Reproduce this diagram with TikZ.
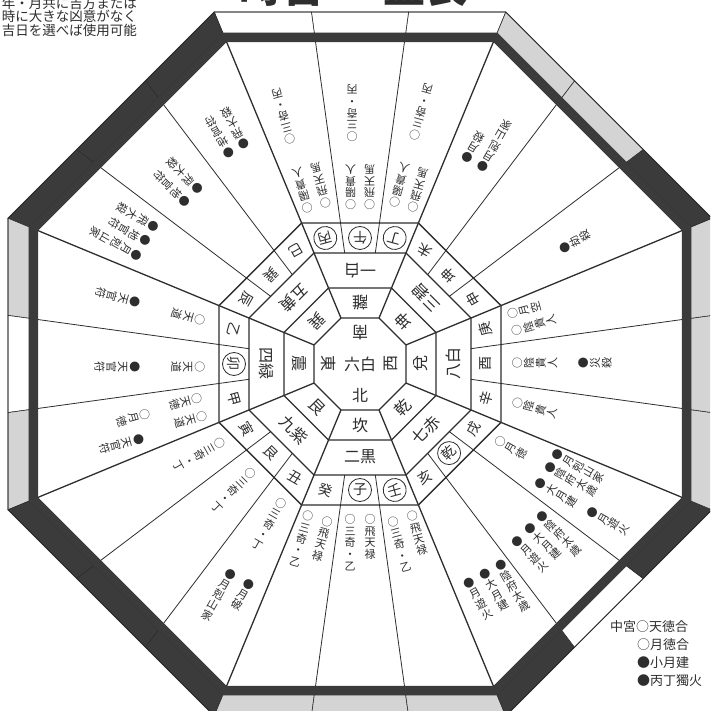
\documentclass[tikz,border=0pt]{standalone}
\usepackage{fontspec}
\setmainfont{Noto Sans CJK JP}
\usetikzlibrary{calc}
\definecolor{ink}{gray}{0.18}
\definecolor{darkband}{gray}{0.23}
\definecolor{greyband}{gray}{0.83}
\newcommand{\octp}[1]{(22.5:{#1*1.08239}) -- (67.5:{#1*1.08239}) -- (112.5:{#1*1.08239}) -- (157.5:{#1*1.08239}) -- (202.5:{#1*1.08239}) -- (247.5:{#1*1.08239}) -- (292.5:{#1*1.08239}) -- (337.5:{#1*1.08239}) -- cycle}
% vertical annotation column: name, sector angle, sub-sector (-1,0,1), start apothem, lateral offset, text
\newcommand{\vt}[6]{%
  \pgfmathsetmacro\bb{#2+#3*15.4}%
  \pgfmathsetmacro\rr{#4/cos(#3*15.4)}%
  \node[ann, rotate=\bb+90, anchor=north] (#1) at ($(\bb:\rr)+({\bb+90}:#5)$) {#6};}
% 24-mountain label: name, sector angle, sub-sector, style, text
\newcommand{\mt}[5]{%
  \pgfmathsetmacro\bb{#2+#3*15.4}%
  \pgfmathsetmacro\rr{126/cos(#3*15.4)}%
  \node[#4, rotate=\bb+90] (#1) at (\bb:\rr) {#5};}
\tikzset{
  ann/.style={text=ink, font=\fontsize{11}{11.8}\selectfont, align=center, inner sep=0pt},
  mtn/.style={text=ink, font=\fontsize{14}{14}\selectfont, inner sep=0pt},
  mtnc/.style={mtn, draw=ink, circle, line width=0.8pt, minimum size=23pt},
  big/.style={text=ink, font=\fontsize{16}{16}\selectfont, inner sep=0pt},
  leg/.style={text=ink, font=\fontsize{13}{13}\selectfont, inner sep=0pt, anchor=west},
  note/.style={text=ink, font=\fontsize{13.5}{13.5}\selectfont, inner sep=0pt, anchor=east},
  titletext/.style={text=ink, font=\fontsize{42}{42}\selectfont\bfseries, inner sep=0pt, anchor=south},
  mainline/.style={draw=ink, line width=1.3pt},
  subline/.style={draw=ink, line width=0.8pt}
}
\begin{document}
\begin{tikzpicture}[x=1pt,y=1pt]
\useasboundingbox (-360,-347) rectangle (350,364);
\clip (-360,-347) rectangle (350,364);
\fill[white] (-360,-347) rectangle (350,364);

% outer frame segments
\foreach \al/\ka/\kb/\kc in {90/white/white/white, 135/darkband/darkband/darkband, 180/greyband/white/greyband, 225/darkband/darkband/darkband, 270/greyband/greyband/greyband, 315/darkband/white/darkband, 0/greyband/greyband/greyband, 45/darkband/greyband/greyband}{
  \foreach \j/\cx in {0/\ka,1/\kb,2/\kc}{
    \pgfmathsetmacro\fa{\j/3}
    \pgfmathsetmacro\fb{(\j+1)/3}
    \filldraw[fill=\cx, draw=ink, line width=0.6pt]
      ($({\al-22.5}:381)!\fa!({\al+22.5}:381)$) --
      ($({\al-22.5}:381)!\fb!({\al+22.5}:381)$) --
      ($({\al-22.5}:358.3)!\fb!({\al+22.5}:358.3)$) --
      ($({\al-22.5}:358.3)!\fa!({\al+22.5}:358.3)$) -- cycle;
  }
}
\fill[darkband, even odd rule] \octp{331} \octp{322};
\draw[ink, line width=0.8pt] \octp{352};

% rings
\foreach \a in {46,76,111,141}{\draw[mainline] \octp{\a};}
% main radial lines
\foreach \t in {22.5,67.5,...,337.5}{\draw[mainline] (\t:{46*1.08239}) -- (\t:{322*1.08239});}
% sub radial lines
\foreach \al in {0,45,...,315}{
  \draw[subline] ({\al+7.861}:112.05) -- ({\al+7.861}:325.05);
  \draw[subline] ({\al-7.861}:112.05) -- ({\al-7.861}:325.05);
}

% centre
\node[big] (c6) at (0,0) {六白};
\node[big, rotate=180] (cS) at (90:31) {南};
\node[big, rotate=270] (cE) at (180:31) {東};
\node[big, rotate=90] (cW) at (0:31) {西};
\node[big] (cN) at (270:31) {北};

% trigrams
\foreach \al/\tx [count=\i] in {90/離,135/巽,180/震,225/艮,270/坎,315/乾,0/兌,45/坤}{
  \node[big, rotate=\al+90] (g\i) at (\al:61) {\tx};
}
% nine stars
\foreach \al/\tx [count=\i] in {90/一白,135/五黄,180/四緑,225/九紫,270/二黒,315/七赤,0/八白,45/三碧}{
  \node[big, rotate=\al+90] (k\i) at (\al:93) {\tx};
}

% 24 mountains
\mt{m1}{90}{1}{mtnc}{丙}
\mt{m2}{90}{0}{mtnc}{午}
\mt{m3}{90}{-1}{mtnc}{丁}
\mt{m4}{45}{1}{mtn}{未}
\mt{m5}{45}{0}{mtn}{坤}
\mt{m6}{45}{-1}{mtn}{申}
\mt{m7}{0}{1}{mtn}{庚}
\mt{m8}{0}{0}{mtn}{酉}
\mt{m9}{0}{-1}{mtn}{辛}
\mt{m10}{315}{1}{mtn}{戌}
\mt{m11}{315}{0}{mtnc}{乾}
\mt{m12}{315}{-1}{mtn}{亥}
\mt{m13}{270}{1}{mtnc}{壬}
\mt{m14}{270}{0}{mtnc}{子}
\mt{m15}{270}{-1}{mtn}{癸}
\mt{m16}{225}{1}{mtn}{丑}
\mt{m17}{225}{0}{mtn}{艮}
\mt{m18}{225}{-1}{mtn}{寅}
\mt{m19}{180}{1}{mtn}{甲}
\mt{m20}{180}{0}{mtnc}{卯}
\mt{m21}{180}{-1}{mtn}{乙}
\mt{m22}{135}{1}{mtn}{辰}
\mt{m23}{135}{0}{mtn}{巽}
\mt{m24}{135}{-1}{mtn}{巳}

% South
\vt{sa1}{90}{1}{154}{9.5}{○\\陽\\貴\\人}
\vt{sb1}{90}{1}{154}{-9.5}{○\\飛\\天\\馬}
\vt{sc1}{90}{1}{222}{8}{○\\三\\奇\\・\\丙}
\vt{sa2}{90}{0}{154}{9.5}{○\\陽\\貴\\人}
\vt{sb2}{90}{0}{154}{-9.5}{○\\飛\\天\\馬}
\vt{sc2}{90}{0}{222}{8}{○\\三\\奇\\・\\丙}
\vt{sa3}{90}{-1}{154}{9.5}{○\\陽\\貴\\人}
\vt{sb3}{90}{-1}{154}{-9.5}{○\\飛\\天\\馬}
\vt{sc3}{90}{-1}{222}{8}{○\\三\\奇\\・\\丙}
% North
\vt{na1}{270}{1}{150}{10}{○\\飛\\天\\禄}
\vt{nb1}{270}{1}{150}{-10}{○\\三\\奇\\・\\乙}
\vt{na2}{270}{0}{150}{10}{○\\飛\\天\\禄}
\vt{nb2}{270}{0}{150}{-10}{○\\三\\奇\\・\\乙}
\vt{na3}{270}{-1}{150}{10}{○\\飛\\天\\禄}
\vt{nb3}{270}{-1}{150}{-10}{○\\三\\奇\\・\\乙}
% North-east
\vt{ea1}{225}{1}{150}{0}{○\\三\\奇\\・\\丁}
\vt{ea2}{225}{0}{150}{0}{○\\三\\奇\\・\\丁}
\vt{ea3}{225}{-1}{150}{0}{○\\三\\奇\\・\\丁}
\vt{eb1}{225}{1}{233}{12}{●\\月\\破}
\vt{eb2}{225}{1}{233}{-9}{●\\月\\剋\\山\\家}
% East
\vt{wa1}{180}{-1}{155}{0}{○\\天\\道}
\vt{wb1}{180}{-1}{220}{0}{●\\天\\官\\符}
\vt{wa2}{180}{0}{155}{3}{○\\天\\道}
\vt{wb2}{180}{0}{220}{3}{●\\天\\官\\符}
\vt{wa3}{180}{1}{155}{9}{○\\天\\道}
\vt{wc3}{180}{1}{155}{-10}{○\\天\\徳}
\vt{wd3}{180}{1}{208}{-8}{○\\月\\徳}
\vt{wb3}{180}{1}{220}{14}{●\\天\\官\\符}
% South-east
\vt{xa1}{135}{-1}{235}{-8}{●\\飛\\大\\殺}
\vt{xb1}{135}{-1}{235}{10}{●\\地\\官\\符}
\vt{xa2}{135}{0}{234}{-9}{●\\飛\\大\\殺}
\vt{xb2}{135}{0}{234}{9}{●\\地\\官\\符}
\vt{xa3}{135}{1}{234}{-18}{●\\飛\\大\\殺}
\vt{xb3}{135}{1}{234}{-1}{●\\地\\官\\符}
\vt{xc3}{135}{1}{234}{16}{●\\月\\剋\\山\\家}
% South-west
\vt{ya1}{45}{1}{219}{9}{●\\月\\殺}
\vt{yb1}{45}{1}{219}{-9}{●\\月\\剋\\山\\家}
\vt{ya3}{45}{-1}{222}{0}{●\\劫\\殺}
% West
\vt{za1}{0}{1}{150}{8}{○\\月\\空}
\vt{zb1}{0}{1}{150}{-9}{○\\陰\\貴\\人}
\vt{za2}{0}{0}{152}{1}{○\\陰\\貴\\人}
\vt{zb2}{0}{0}{218}{1}{●\\災\\殺}
\vt{za3}{0}{-1}{152}{4}{○\\陰\\貴\\人}
% North-west
\vt{qa1}{315}{1}{150}{2}{○\\月\\徳}
\vt{qb1}{315}{1}{204}{19}{●\\月\\剋\\山\\家}
\vt{qc1}{315}{1}{204}{4}{●\\陰\\府\\太\\歳}
\vt{qd1}{315}{1}{204}{-15}{●\\大\\月\\建}
\vt{qe1}{315}{1}{261}{-14}{●\\月\\遊\\火}
\vt{qc2}{315}{0}{232}{21}{●\\陰\\府\\太\\歳}
\vt{qd2}{315}{0}{232}{4}{●\\大\\月\\建}
\vt{qe2}{315}{0}{232}{-14}{●\\月\\遊\\火}
\vt{qc3}{315}{-1}{231}{23}{●\\陰\\府\\太\\歳}
\vt{qd3}{315}{-1}{231}{5}{●\\大\\月\\建}
\vt{qe3}{315}{-1}{231}{-13}{●\\月\\遊\\火}

% legend
\node[leg] (lg1) at (250,-263) {中宮○天徳合};
\node[leg] (lg2) at (277,-281) {○月徳合};
\node[leg] (lg3) at (277,-299) {●小月建};
\node[leg] (lg4) at (277,-317) {●丙丁獨火};

% note at top left
\node[note] (n1) at (-223,360.5) {年・月共に吉方または};
\node[note] (n2) at (-223,347.3) {時に大きな凶意がなく};
\node[note] (n3) at (-223,334) {吉日を選べば使用可能};

% clipped title
\node[titletext] (t1) at (-78,357) {時宮};
\node[titletext] (t2) at (65,357) {盤表};
\end{tikzpicture}
\end{document}
